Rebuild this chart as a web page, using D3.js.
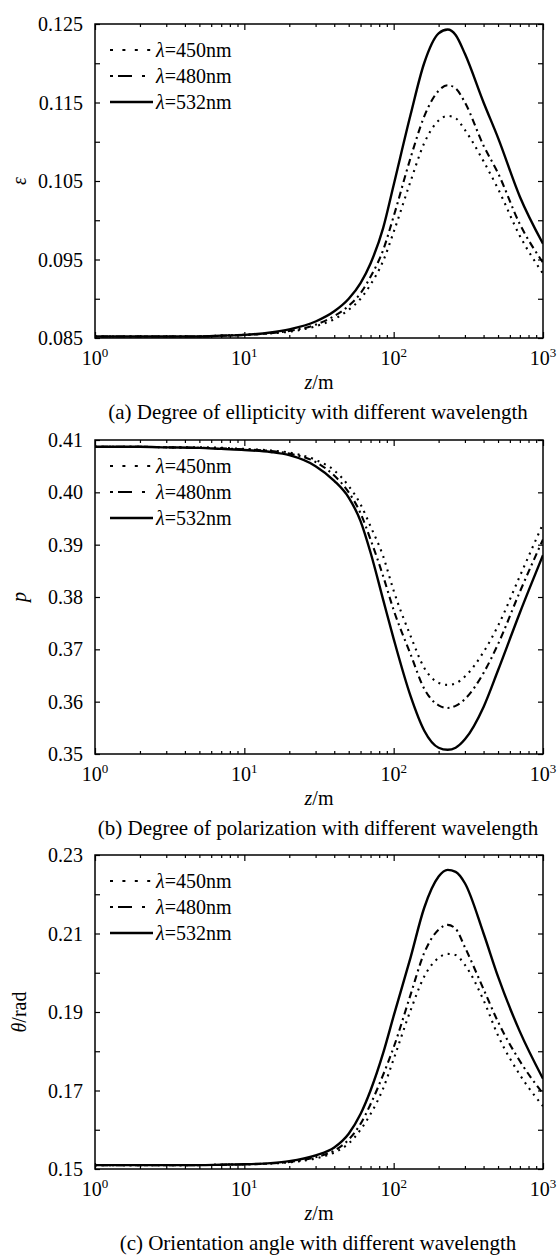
<!DOCTYPE html>
<html>
<head>
<meta charset="utf-8">
<script src="https://cdn.jsdelivr.net/npm/d3@7"></script>
<style>
  html, body { margin: 0; padding: 0; background: #fff; }
  svg { display: block; }
  text { font-family: "Liberation Serif", "Times New Roman", serif; fill: #000; }
</style>
</head>
<body>
<svg id="chart" width="559" height="1255"></svg>
<script>
// ---------- data ----------
const zValues = [1,2,3,5,7,10,15,20,30,40,50,60,70,85,100,130,160,200,230,260,300,400,500,700,1000];
const seriesLabels = ["450nm", "480nm", "532nm"];

const eps450 = [0.0852,0.0852,0.0852,0.0852,0.0853,0.0854,0.0856,0.0858,0.0865,0.0874,0.0886,0.0900,0.0918,0.0948,0.0985,0.1050,0.1098,0.1127,0.1133,0.1130,0.1115,0.1075,0.1040,0.0980,0.0932];
const eps480 = [0.0852,0.0852,0.0852,0.0852,0.0853,0.0854,0.0856,0.0859,0.0867,0.0878,0.0891,0.0907,0.0928,0.0962,0.1005,0.1080,0.1132,0.1165,0.1172,0.1168,0.1150,0.1095,0.1060,0.0995,0.0946];
const eps532 = [0.0852,0.0852,0.0852,0.0852,0.0853,0.0854,0.0857,0.0861,0.0871,0.0884,0.0900,0.0920,0.0945,0.0990,0.1045,0.1135,0.1200,0.1238,0.1243,0.1236,0.1212,0.1150,0.1105,0.1030,0.0970];

const pol450 = [0.4087,0.4087,0.4086,0.4086,0.4085,0.4083,0.4080,0.4076,0.4062,0.4042,0.4012,0.3977,0.3935,0.3878,0.3812,0.3725,0.3665,0.3636,0.3632,0.3635,0.3648,0.3695,0.3745,0.3840,0.3940];
const pol480 = [0.4087,0.4087,0.4086,0.4085,0.4084,0.4082,0.4079,0.4074,0.4058,0.4032,0.4000,0.3960,0.3910,0.3840,0.3775,0.3690,0.3625,0.3593,0.3588,0.3592,0.3605,0.3655,0.3710,0.3810,0.3910];
const pol532 = [0.4087,0.4087,0.4086,0.4085,0.4083,0.4081,0.4077,0.4071,0.4050,0.4022,0.3990,0.3945,0.3885,0.3795,0.3720,0.3610,0.3545,0.3512,0.3508,0.3512,0.3528,0.3590,0.3660,0.3770,0.3880];

const ang450 = [0.1510,0.1510,0.1510,0.1510,0.1511,0.1512,0.1514,0.1517,0.1527,0.1542,0.1565,0.1600,0.1640,0.1705,0.1780,0.1905,0.1990,0.2038,0.2048,0.2045,0.2020,0.1930,0.1840,0.1740,0.1660];
const ang480 = [0.1510,0.1510,0.1510,0.1510,0.1511,0.1512,0.1514,0.1518,0.1530,0.1547,0.1575,0.1615,0.1665,0.1740,0.1810,0.1945,0.2050,0.2110,0.2122,0.2112,0.2065,0.1958,0.1875,0.1775,0.1692];
const ang532 = [0.1510,0.1510,0.1510,0.1510,0.1511,0.1512,0.1515,0.1520,0.1535,0.1555,0.1590,0.1640,0.1700,0.1795,0.1890,0.2040,0.2165,0.2245,0.2262,0.2257,0.2228,0.2100,0.1990,0.1850,0.1730];

const xMajorTicks = [1, 10, 100, 1000];
const xTickExponents = ["0", "1", "2", "3"];

const epsTicks = [0.085,0.090,0.095,0.100,0.105,0.110,0.115,0.120,0.125];
const epsTickLabels = ["0.085","","0.095","","0.105","","0.115","","0.125"];
const polTicks = [0.35,0.36,0.37,0.38,0.39,0.40,0.41];
const polTickLabels = ["0.35","0.36","0.37","0.38","0.39","0.40","0.41"];
const angTicks = [0.15,0.16,0.17,0.18,0.19,0.20,0.21,0.22,0.23];
const angTickLabels = ["0.15","","0.17","","0.19","","0.21","","0.23"];

const captions = [
  "(a) Degree of ellipticity with different wavelength",
  "(b) Degree of polarization with different wavelength",
  "(c) Orientation angle with different wavelength"
];

// ---------- layout ----------
const svg = d3.select("#chart");
const left = 95, right = 543, plotH = 314;
const tops = [24, 440, 855];
const dashStyles = ["2,5", "2,4,7,4", null];
const legendDash = ["3,9.4", "3,5,14,10,3,100", null];
const legendEnd = [152, 146, 153];

const panels = [
  { top: tops[0], domain: [0.085, 0.125], ticks: epsTicks, labels: epsTickLabels, series: [eps450, eps480, eps532], ylab: "ε", caption: captions[0] },
  { top: tops[1], domain: [0.35, 0.41], ticks: polTicks, labels: polTickLabels, series: [pol450, pol480, pol532], ylab: "p", caption: captions[1] },
  { top: tops[2], domain: [0.15, 0.23], ticks: angTicks, labels: angTickLabels, series: [ang450, ang480, ang532], ylab: "θ", suffix: "/rad", caption: captions[2] }
];

const x = d3.scaleLog().domain([1, 1000]).range([left, right]);
const minorTicks = [];
for (let d = 1; d < 1000; d *= 10) for (let k = 2; k <= 9; k++) minorTicks.push(d * k);

panels.forEach((p, idx) => {
  const g = svg.append("g");
  const bottom = p.top + plotH;
  const y = d3.scaleLinear().domain(p.domain).range([bottom, p.top]);

  const clipId = "clip" + idx;
  svg.append("clipPath").attr("id", clipId).append("rect")
    .attr("x", left).attr("y", p.top - 2).attr("width", right - left).attr("height", plotH + 2);

  const line = d3.line()
    .x((d, i) => x(zValues[i]))
    .y(d => y(d))
    .curve(d3.curveMonotoneX);
  p.series.forEach((s, si) => {
    g.append("path")
      .attr("d", line(s))
      .attr("fill", "none")
      .attr("stroke", "#000")
      .attr("stroke-width", si === 2 ? 2.4 : 2.1)
      .attr("stroke-dasharray", dashStyles[si])
      .attr("clip-path", `url(#${clipId})`);
  });

  const axB = d3.axisBottom(x).tickValues(xMajorTicks).tickSize(-6).tickFormat("");
  const axBm = d3.axisBottom(x).tickValues(minorTicks).tickSize(-3).tickFormat("");
  const axT = d3.axisTop(x).tickValues(xMajorTicks).tickSize(-6).tickFormat("");
  const axTm = d3.axisTop(x).tickValues(minorTicks).tickSize(-3).tickFormat("");
  const axL = d3.axisLeft(y).tickValues(p.ticks).tickSize(-5).tickFormat((d, i) => p.labels[i]).tickPadding(12);
  const axR = d3.axisRight(y).tickValues(p.ticks).tickSize(-5).tickFormat("");

  const styleAxis = sel => {
    sel.select(".domain").remove();
    sel.selectAll("line").attr("stroke", "#000").attr("stroke-width", 1.2);
  };
  g.append("g").attr("transform", `translate(0,${bottom})`).call(axB).call(styleAxis);
  g.append("g").attr("transform", `translate(0,${bottom})`).call(axBm).call(styleAxis);
  g.append("g").attr("transform", `translate(0,${p.top})`).call(axT).call(styleAxis);
  g.append("g").attr("transform", `translate(0,${p.top})`).call(axTm).call(styleAxis);
  const gl = g.append("g").attr("transform", `translate(${left},0)`).call(axL).call(styleAxis);
  gl.selectAll("text").attr("font-size", 20).attr("font-family", "Liberation Serif").attr("dy", "0.33em");
  g.append("g").attr("transform", `translate(${right},0)`).call(axR).call(styleAxis);

  g.append("rect").attr("x", left).attr("y", p.top).attr("width", right - left).attr("height", plotH)
    .attr("fill", "none").attr("stroke", "#000").attr("stroke-width", 1.5);

  xMajorTicks.forEach((t, i) => {
    const tx = g.append("text").attr("x", x(t)).attr("y", bottom + 27)
      .attr("text-anchor", "middle").attr("font-size", 20);
    tx.append("tspan").text("10");
    tx.append("tspan").attr("font-size", 13).attr("dy", -8).text(xTickExponents[i]);
  });

  const xl = g.append("text").attr("x", (left + right) / 2).attr("y", bottom + 51)
    .attr("text-anchor", "middle").attr("font-size", 20);
  xl.append("tspan").attr("font-style", "italic").text("z");
  xl.append("tspan").text("/m");

  const yl = g.append("text")
    .attr("transform", `translate(26,${p.top + plotH / 2}) rotate(-90)`)
    .attr("text-anchor", "middle").attr("font-size", 20);
  yl.append("tspan").attr("font-style", "italic").text(p.ylab);
  if (p.suffix) yl.append("tspan").text(p.suffix);

  g.append("text").attr("x", (left + right) / 2 - 1).attr("y", bottom + 81)
    .attr("text-anchor", "middle").attr("font-size", 21).text(p.caption);

  seriesLabels.forEach((lab, si) => {
    const ly = p.top + 26 + si * 26;
    g.append("line").attr("x1", 110).attr("x2", legendEnd[si]).attr("y1", ly).attr("y2", ly)
      .attr("stroke", "#000").attr("stroke-width", si === 2 ? 2.5 : 2)
      .attr("stroke-dasharray", legendDash[si]);
    const lt = g.append("text").attr("x", 156).attr("y", ly + 7).attr("font-size", 20);
    lt.append("tspan").attr("font-style", "italic").text("λ");
    lt.append("tspan").text("=" + lab);
  });
});
</script>
</body>
</html>
